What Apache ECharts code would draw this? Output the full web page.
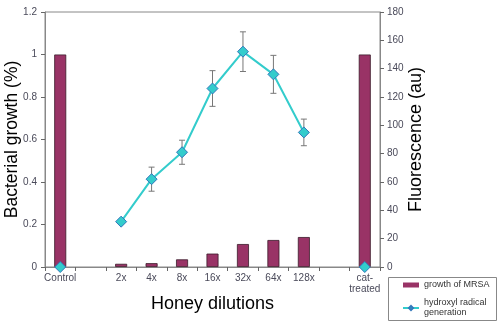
<!DOCTYPE html>
<html>
<head>
<meta charset="utf-8">
<script src="https://cdn.jsdelivr.net/npm/echarts@6/dist/echarts.min.js"></script>
<style>
html,body{margin:0;padding:0;background:#fff;}
#chart{width:498px;height:324px;}
</style>
</head>
<body>
<div id="chart"></div>
<script>
var categories = ['Control', '', '2x', '4x', '8x', '16x', '32x', '64x', '128x', '', 'cat-\ntreated'];
var growthMRSA = [1.0, null, 0.015, 0.018, 0.036, 0.063, 0.108, 0.127, 0.141, null, 1.0];
var hydroxyl = [0, null, 32, 62, 81, 126, 152, 136, 95, null, 0];
var hydroxylErr = [null, null, null, 8.5, 8.5, 12.6, 14, 13.4, 9.4, null, null];
var leftTicks = { min: 0, max: 1.2, interval: 0.2 };
var rightTicks = { min: 0, max: 180, interval: 20 };

var errData = [];
for (var i = 0; i < categories.length; i++) {
  if (hydroxylErr[i] != null) errData.push([i, hydroxyl[i] - hydroxylErr[i], hydroxyl[i] + hydroxylErr[i]]);
}

var chart = echarts.init(document.getElementById('chart'), null, { renderer: 'canvas' });
var axisLabelStyle = { color: '#4a4a5a', fontSize: 10, fontFamily: 'Liberation Sans' };
var titleStyle = { color: '#000', fontSize: 18, fontFamily: 'Liberation Sans' };

chart.setOption({
  animation: false,
  backgroundColor: '#fff',
  grid: { left: 45, right: 118, top: 12, bottom: 57, containLabel: false, outerBoundsMode: 'none',
    show: true, borderColor: '#888', borderWidth: 1, backgroundColor: 'transparent' },
  graphic: [{
    type: 'rect', left: 388, top: 277, shape: { width: 108, height: 43 },
    style: { fill: '#fff', stroke: '#888', lineWidth: 1 }, z: 0
  }],
  legend: {
    orient: 'vertical', left: 402, top: 280, itemGap: 8, padding: 0,
    itemWidth: 16, itemHeight: 5, z: 10,
    textStyle: { fontSize: 9, color: '#333', fontFamily: 'Liberation Sans', lineHeight: 10 },
    data: [
      { name: 'growth of MRSA', icon: 'rect', itemStyle: { borderWidth: 0 } },
      { name: 'hydroxyl radical\ngeneration' }
    ]
  },
  xAxis: {
    type: 'category', data: categories,
    name: 'Honey dilutions', nameLocation: 'middle', nameGap: 28, nameTextStyle: titleStyle,
    nameMoveOverlap: false,
    axisLine: { lineStyle: { color: '#888' } },
    axisTick: { show: true, interval: 0, length: 4, lineStyle: { color: '#666' } },
    axisLabel: Object.assign({ interval: 0, margin: 6, lineHeight: 11 }, axisLabelStyle)
  },
  yAxis: [{
    type: 'value', min: leftTicks.min, max: leftTicks.max, interval: leftTicks.interval,
    name: 'Bacterial growth (%)', nameLocation: 'middle', nameGap: 24, nameRotate: 90,
    nameMoveOverlap: false,
    nameTextStyle: Object.assign({}, titleStyle, { fontSize: 17.5 }),
    splitLine: { show: false },
    axisLine: { show: true, lineStyle: { color: '#888' } },
    axisTick: { show: true, length: 4, lineStyle: { color: '#666' } },
    axisLabel: Object.assign({ margin: 8, formatter: function (v) { return String(+v.toFixed(1)); } }, axisLabelStyle)
  }, {
    type: 'value', min: rightTicks.min, max: rightTicks.max, interval: rightTicks.interval, position: 'right',
    name: 'Fluorescence (au)', nameLocation: 'middle', nameGap: 27, nameRotate: 90, nameTextStyle: titleStyle,
    nameMoveOverlap: false,
    splitLine: { show: false },
    axisLine: { show: true, lineStyle: { color: '#888' } },
    axisTick: { show: true, length: 4, lineStyle: { color: '#666' } },
    axisLabel: Object.assign({ margin: 7 }, axisLabelStyle)
  }],
  series: [{
    name: 'growth of MRSA', type: 'bar', yAxisIndex: 0, data: growthMRSA, barWidth: 12,
    itemStyle: { color: '#993366', borderColor: '#3a1a2a', borderWidth: 0.8 }
  }, {
    type: 'custom', yAxisIndex: 1, data: errData, z: 3,
    renderItem: function (params, api) {
      var x = api.value(0);
      var lo = api.coord([x, api.value(1)]);
      var hi = api.coord([x, api.value(2)]);
      var hw = 3;
      var st = { stroke: '#777', lineWidth: 1 };
      return { type: 'group', children: [
        { type: 'line', shape: { x1: lo[0], y1: lo[1], x2: hi[0], y2: hi[1] }, style: st },
        { type: 'line', shape: { x1: lo[0] - hw, y1: lo[1], x2: lo[0] + hw, y2: lo[1] }, style: st },
        { type: 'line', shape: { x1: hi[0] - hw, y1: hi[1], x2: hi[0] + hw, y2: hi[1] }, style: st }
      ] };
    }
  }, {
    name: 'hydroxyl radical\ngeneration', type: 'line', yAxisIndex: 1, data: hydroxyl, z: 5,
    connectNulls: false, symbol: 'diamond', symbolSize: 11,
    lineStyle: { color: '#33CCCC', width: 2 },
    itemStyle: { color: '#33CCCC', borderColor: '#3377bb', borderWidth: 1 }
  }]
});
</script>
</body>
</html>
